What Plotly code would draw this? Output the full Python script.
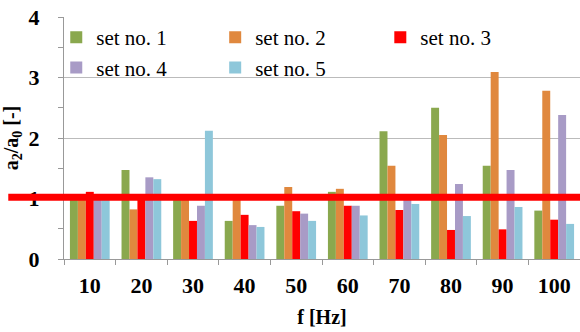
import plotly.graph_objects as go

categories = ["10", "20", "30", "40", "50", "60", "70", "80", "90", "100"]
set1 = [1.01, 1.47, 1.00, 0.63, 0.88, 1.11, 2.11, 2.50, 1.54, 0.80]
set2 = [1.01, 0.82, 1.00, 1.00, 1.19, 1.16, 1.54, 2.05, 3.09, 2.78]
set3 = [1.11, 1.00, 0.63, 0.73, 0.79, 0.88, 0.81, 0.48, 0.49, 0.65]
set4 = [1.00, 1.35, 0.88, 0.56, 0.75, 0.88, 0.98, 1.24, 1.47, 2.38]
set5 = [1.00, 1.32, 2.12, 0.53, 0.63, 0.72, 0.91, 0.71, 0.86, 0.58]
series_names = ["set no. 1", "set no. 2", "set no. 3", "set no. 4", "set no. 5"]
series_colors = ["#8AA84E", "#E0883E", "#FF0000", "#A89BC6", "#8EC7DA"]
series_legend = ["legend", "legend2", "legend3", "legend", "legend2"]
threshold = 1.02

fig = go.Figure()
for name, vals, col, lg in zip(series_names, [set1, set2, set3, set4, set5],
                               series_colors, series_legend):
    fig.add_trace(go.Bar(x=categories, y=vals, name=name, marker_color=col,
                         marker_line_width=0, legend=lg))

fig.add_shape(type="line", xref="paper", yref="y", x0=-0.108, x1=1.0,
              y0=threshold, y1=threshold, line=dict(color="#FF0000", width=7),
              layer="above")

font_serif = "Liberation Serif, serif"
legend_common = dict(orientation="v", y=1.0, xanchor="left", yanchor="top",
                     font=dict(family=font_serif, size=21, color="black"),
                     bgcolor="rgba(255,255,255,0)", tracegroupgap=0, borderwidth=0)

fig.update_layout(
    width=580, height=332,
    margin=dict(l=64, r=0, t=17, b=73, autoexpand=False),
    paper_bgcolor="white", plot_bgcolor="white",
    barmode="group", bargap=0.23, bargroupgap=0,
    font=dict(family=font_serif, color="black"),
    showlegend=True,
    legend=dict(x=-0.015, **legend_common),
    legend2=dict(x=0.293, **legend_common),
    legend3=dict(x=0.613, **legend_common),
    xaxis=dict(type="category", tickson="boundaries", ticks="outside", ticklen=5,
               automargin=False,
               tickcolor="#999999", showline=True, linecolor="#999999", linewidth=1,
               tickfont=dict(family=font_serif, size=22, color="black", weight="bold"),
               ticklabelstandoff=7,
               title=dict(text="<b>f [Hz]</b>", font=dict(family=font_serif, size=20), standoff=12),
               showgrid=False),
    yaxis=dict(range=[0, 4], dtick=1, tick0=0, ticks="outside", ticklen=5,
               automargin=False,
               tickcolor="#999999", showline=True, linecolor="#999999", linewidth=1,
               showgrid=True, gridcolor="#BBBBBB", gridwidth=1,
               minor=dict(dtick=0.5, ticks="outside", ticklen=5, tickcolor="#999999", showgrid=False),
               tickfont=dict(family=font_serif, size=22, color="black", weight="bold"),
               ticklabelstandoff=14,
               title=dict(text="<b>a<sub>2</sub>/a<sub>0</sub> [-]</b>",
                          font=dict(family=font_serif, size=20), standoff=4),
               zeroline=False),
)

fig.write_html("out.html", config={"displayModeBar": False},
               post_script="document.body.style.margin='0';document.body.style.padding='0';")
